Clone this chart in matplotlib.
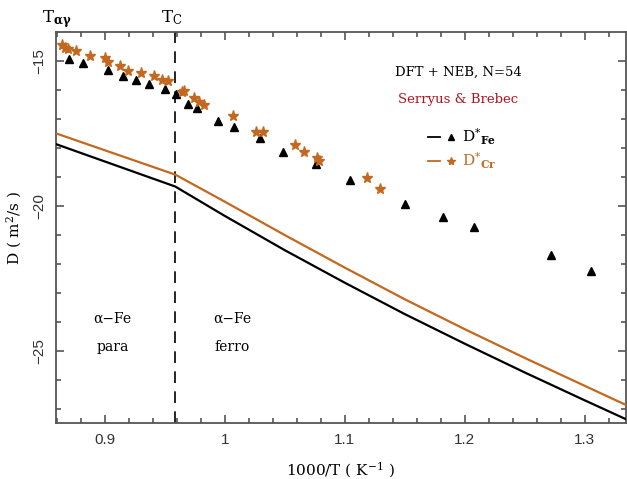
import matplotlib
matplotlib.use("Agg")
import matplotlib.pyplot as plt
from matplotlib.lines import Line2D
from matplotlib.legend_handler import HandlerTuple
from matplotlib.ticker import MultipleLocator

plt.rcParams['mathtext.fontset'] = 'dejavuserif'

# ---- data ----
x_min, x_max = 0.8594, 1.3344
y_min, y_max = -27.47, -14.01
Tc_x = 0.9588

line_fe_x = [0.8594, 0.9588, 1.00, 1.05, 1.10, 1.15, 1.20, 1.25, 1.30, 1.3344]
line_fe_y = [-17.87, -19.33, -20.34, -21.52, -22.64, -23.72, -24.74, -25.73, -26.69, -27.34]
line_cr_x = [0.8594, 0.9588, 1.00, 1.05, 1.10, 1.15, 1.20, 1.25, 1.30, 1.3344]
line_cr_y = [-17.50, -18.92, -19.85, -21.00, -22.12, -23.21, -24.24, -25.23, -26.19, -26.85]

exp_fe_x = [0.8705, 0.8822, 0.9025, 0.9151, 0.9261, 0.9367, 0.9500, 0.9594, 0.9694, 0.9772,
            0.9947, 1.0078, 1.0294, 1.0488, 1.0761, 1.1048, 1.1505, 1.1819, 1.2076, 1.2722, 1.3054]
exp_fe_y = [-14.95, -15.09, -15.31, -15.53, -15.67, -15.79, -15.97, -16.13, -16.50, -16.62,
            -17.08, -17.29, -17.65, -18.15, -18.54, -19.09, -19.93, -20.39, -20.73, -21.67, -22.24]

exp_cr_x = [0.8644, 0.8673, 0.8694, 0.8757, 0.8880, 0.9005, 0.9028, 0.9128, 0.9194, 0.9305,
            0.9408, 0.9478, 0.9529, 0.9640, 0.9663, 0.9742, 0.9788, 0.9828, 1.0067, 1.0263,
            1.0323, 1.0588, 1.0657, 1.0772, 1.0788, 1.1183, 1.1296]
exp_cr_y = [-14.46, -14.55, -14.61, -14.67, -14.84, -14.92, -15.03, -15.17, -15.35, -15.43,
            -15.52, -15.66, -15.70, -16.08, -16.05, -16.27, -16.43, -16.53, -16.90, -17.45,
            -17.46, -17.89, -18.15, -18.35, -18.45, -19.04, -19.41]

x_ticks = [0.9, 1.0, 1.1, 1.2, 1.3]
x_ticklabels = ['0.9', '1', '1.1', '1.2', '1.3']
y_ticks = [-25, -20, -15]
y_ticklabels = ['\u221225', '\u221220', '\u221215']

ORANGE = '#c4681f'
RED = '#b3121e'
SERIF = 'DejaVu Serif'
SANS = 'Liberation Sans'

fig = plt.figure(figsize=(6.27, 4.79), dpi=100)
ax = fig.add_axes([56/627, 1-423/479, 570/627, 391/479])

ax.plot(line_fe_x, line_fe_y, color='black', lw=1.6, zorder=3)
ax.plot(line_cr_x, line_cr_y, color=ORANGE, lw=1.6, zorder=3)
ax.plot(exp_fe_x, exp_fe_y, ls='none', marker='^', ms=6, color='black', zorder=4)
ax.plot(exp_cr_x, exp_cr_y, ls='none', marker='*', ms=8, color=ORANGE, zorder=4)
ax.axvline(Tc_x, color='black', lw=1.2, ls=(0, (7, 5)), zorder=2)

ax.set_xlim(x_min, x_max)
ax.set_ylim(y_min, y_max)
ax.set_xticks(x_ticks)
ax.set_xticklabels(x_ticklabels, family=SANS, fontsize=11, color='#333333')
ax.set_yticks(y_ticks)
ax.set_yticklabels(y_ticklabels, family=SANS, fontsize=11, color='#333333',
                   rotation=90, va='center')
ax.xaxis.set_minor_locator(MultipleLocator(0.02))
ax.yaxis.set_minor_locator(MultipleLocator(1))
ax.tick_params(which='both', direction='in', top=True, right=True, color='#555555', width=1.2)
ax.tick_params(which='major', length=6, pad=7)
ax.tick_params(which='minor', length=3.5)
for s in ax.spines.values():
    s.set_color('#555555')
    s.set_linewidth(1.3)

ax.set_xlabel('1000/T ( K$^{-1}$ )', family=SERIF, fontsize=11, labelpad=10)
ax.set_ylabel('D ( m$^{2}$/s )', family=SERIF, fontsize=11, labelpad=6)

ax.text(x_min + 0.001, (423 - 22) / 391, r'T$_{\mathbf{\alpha\gamma}}$', transform=ax.get_xaxis_transform(),
        ha='center', va='baseline', family=SERIF, fontsize=12)
ax.text(Tc_x - 0.003, (423 - 22) / 391, r'T$_{\rm C}$', transform=ax.get_xaxis_transform(),
        ha='center', va='baseline', family=SERIF, fontsize=12)

ax.text(1.1944, -15.39, 'DFT + NEB, N=54', ha='center', va='center', family=SERIF, fontsize=9.5)
ax.text(1.1944, -16.35, 'Serryus & Brebec', ha='center', va='center', family=SERIF,
        fontsize=9.5, color=RED)

ax.text(0.9065, -23.89, '\u03b1\u2212Fe', ha='center', va='center', family=SERIF, fontsize=10)
ax.text(0.9065, -24.86, 'para', ha='center', va='center', family=SERIF, fontsize=10)
ax.text(1.0065, -23.89, '\u03b1\u2212Fe', ha='center', va='center', family=SERIF, fontsize=10)
ax.text(1.0065, -24.86, 'ferro', ha='center', va='center', family=SERIF, fontsize=10)

h_fe = (Line2D([], [], color='black', lw=1.3), Line2D([], [], ls='none', marker='^', ms=4.5, color='black'))
h_cr = (Line2D([], [], color=ORANGE, lw=1.3), Line2D([], [], ls='none', marker='*', ms=6, color=ORANGE))
leg = ax.legend([h_fe, h_cr], [r'D$^{*}$$_{\mathbf{Fe}}$', r'D$^{*}$$_{\mathbf{Cr}}$'],
                handler_map={tuple: HandlerTuple(ndivide=None, pad=0.3)},
                loc='upper left', bbox_to_anchor=((428-56)/570, (423-127)/391),
                frameon=False, borderpad=0, borderaxespad=0, handlelength=1.9,
                handletextpad=0.3, labelspacing=0.2, prop={'family': SERIF, 'size': 11})
leg.get_texts()[1].set_color(ORANGE)

fig.savefig('out.png', dpi=100)
